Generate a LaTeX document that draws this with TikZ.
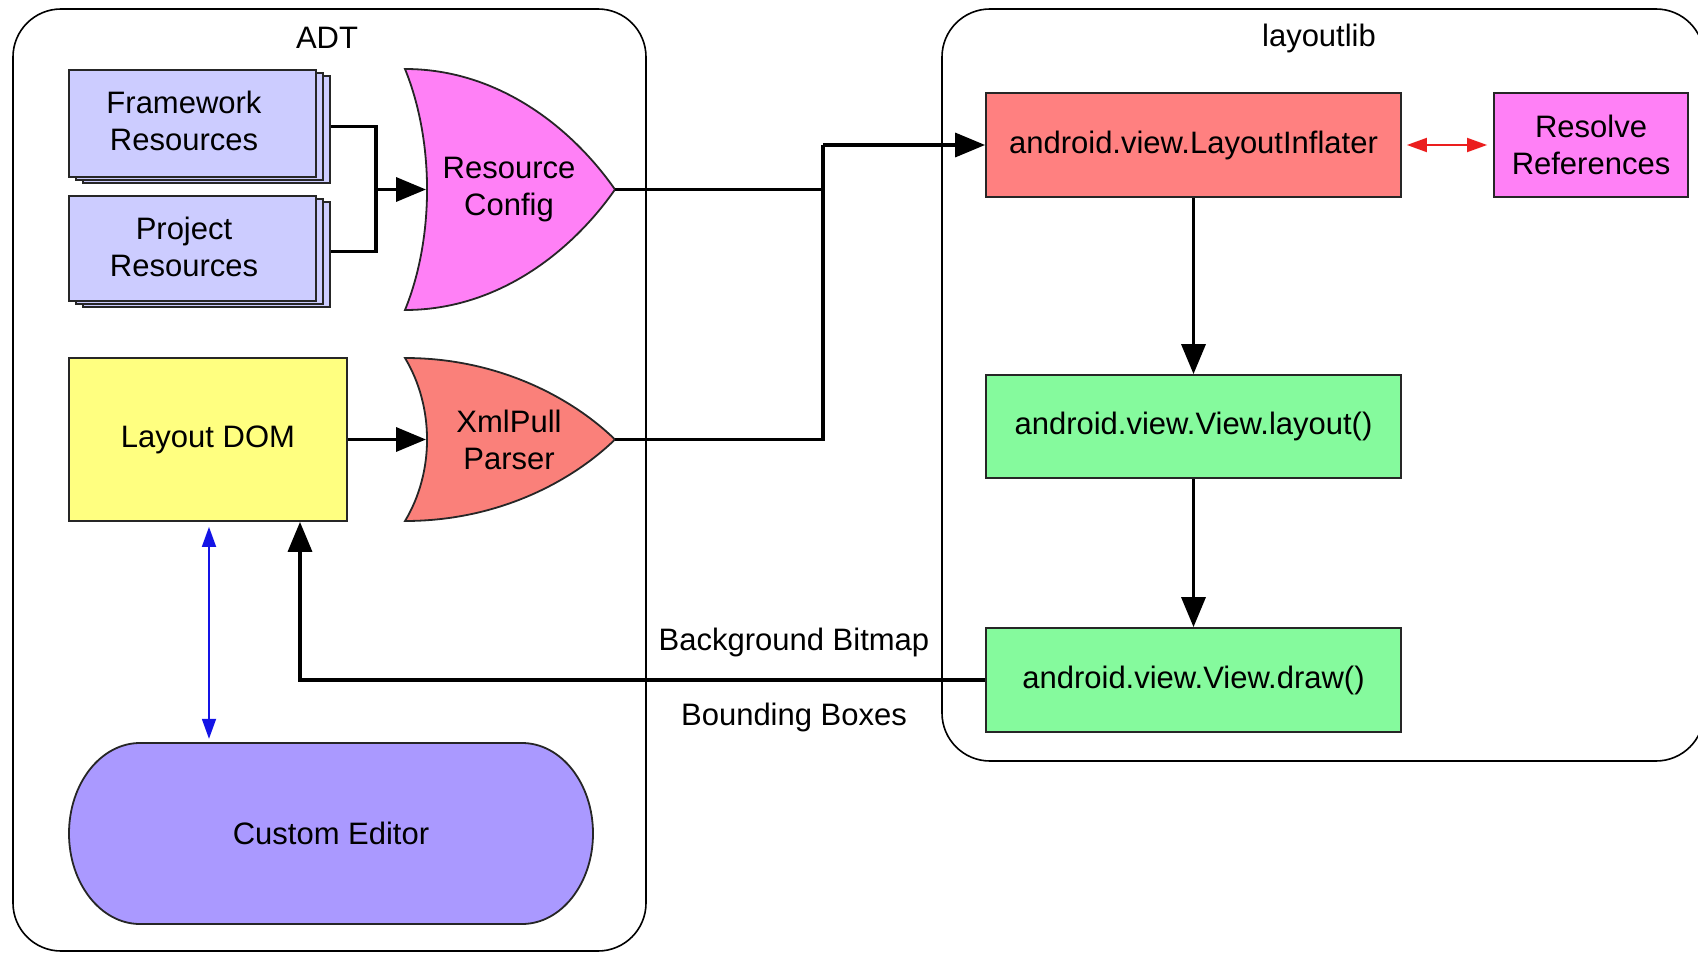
\documentclass[tikz,border=0pt]{standalone}
\usepackage{fontspec}
\setmainfont{Liberation Sans}
\usetikzlibrary{arrows.meta,calc}
\definecolor{fwcol}{RGB}{204,204,255}
\definecolor{rccol}{RGB}{255,128,246}
\definecolor{xpcol}{RGB}{250,128,122}
\definecolor{licol}{RGB}{255,128,128}
\definecolor{domcol}{RGB}{255,255,128}
\definecolor{grcol}{RGB}{133,250,157}
\definecolor{cecol}{RGB}{170,153,255}
\definecolor{bluearr}{RGB}{20,20,230}
\definecolor{redarr}{RGB}{235,30,30}
\tikzset{
  container/.style={draw=black, line width=1.6pt, rounded corners=48pt},
  box/.style={draw=black!85, line width=1.8pt, align=center, inner sep=0pt},
  shapeline/.style={draw=black!85, line width=1.8pt},
  gatetxt/.style={align=center, inner sep=0pt},
  wire/.style={line width=3.5pt},
  conn/.style={line width=3.5pt, -{Triangle[length=30pt,width=24pt]}},
  thinboth/.style={line width=1.8pt, {Triangle[length=20pt,width=14pt]}-{Triangle[length=20pt,width=14pt]}},
  lbl/.style={inner sep=0pt}
}
\newcommand{\gatepath}[5]{%
  \path[shapeline, fill=#5]
    (#1,#3) .. controls ({#1+0.45*(#2-#1)},#3) and ({#2-0.2*(#2-#1)},{(#3+#4)/2-0.25*(#4-#3)}) .. (#2,{(#3+#4)/2})
    .. controls ({#2-0.2*(#2-#1)},{(#3+#4)/2+0.25*(#4-#3)}) and ({#1+0.45*(#2-#1)},#4) .. (#1,#4)
    .. controls ({#1+0.14*(#2-#1)},{#4-0.3*(#4-#3)}) and ({#1+0.14*(#2-#1)},{#3+0.3*(#4-#3)}) .. (#1,#3) -- cycle;}
\begin{document}
\begin{tikzpicture}[x=1pt,y=-1pt,font=\fontsize{31}{37}\selectfont]
\useasboundingbox (0,0) rectangle (1698,955);

% containers
\draw[container] (13,9) rectangle (646,951);
\node[lbl] (adt) at (327,38) {ADT};
\draw[container] (942,9) rectangle (1704,761);
\node[lbl] (ll) at (1319,38) {layoutlib};

% stacked resource boxes
\foreach \dx/\dy in {14/6,7/3}{
  \draw[shapeline, fill=fwcol] (69+\dx,70+\dy) rectangle (316+\dx,177+\dy);
  \draw[shapeline, fill=fwcol] (69+\dx,196+\dy) rectangle (316+\dx,301+\dy);
}
\node[box, fill=fwcol, minimum width=247pt, minimum height=107pt] (fw) at (192.5,123.5) {};
\node[gatetxt] (fwt) at (184,121) {Framework\\Resources};
\node[box, fill=fwcol, minimum width=247pt, minimum height=105pt] (pr) at (192.5,248.5) {};
\node[gatetxt] (prt) at (184,247) {Project\\Resources};

% gates
\gatepath{405}{615}{69}{310}{rccol}
\node[gatetxt] (rc) at (509,189.5) {Resource\\Config};
\coordinate (rcL) at (426,189.5);
\coordinate (rcT) at (615,189.5);

\gatepath{405}{615}{358}{521}{xpcol}
\node[gatetxt] (xp) at (509,439.5) {XmlPull\\Parser};
\coordinate (xpL) at (426,439.5);
\coordinate (xpT) at (615,439.5);

% layout DOM
\node[box, fill=domcol, minimum width=278pt, minimum height=163pt] (dom) at (208,439.5) {Layout DOM};

% custom editor
\path[shapeline, fill=cecol] (140,743) .. controls (100.8,743) and (69,783.5) .. (69,833.5)
  .. controls (69,883.5) and (100.8,924) .. (140,924) -- (522,924)
  .. controls (561.2,924) and (593,883.5) .. (593,833.5)
  .. controls (593,783.5) and (561.2,743) .. (522,743) -- cycle;
\node[gatetxt, minimum width=524pt, minimum height=181pt] (ce) at (331,833.5) {Custom Editor};

% layoutlib boxes
\node[box, fill=licol, minimum width=415pt, minimum height=104pt] (li) at (1193.5,145) {android.view.LayoutInflater};
\node[box, fill=rccol, minimum width=194pt, minimum height=104pt] (rr) at (1591,145) {Resolve\\References};
\node[box, fill=grcol, minimum width=415pt, minimum height=103pt] (vl) at (1193.5,426.5) {android.view.View.layout()};
\node[box, fill=grcol, minimum width=415pt, minimum height=104pt] (vd) at (1193.5,680) {android.view.View.draw()};

% connectors
\coordinate (jx) at (376,189.5);
\draw[wire] ([shift={(14,3)}]fw.east) -| (jx) |- ([shift={(14,3)}]pr.east);
\draw[conn] (jx) -- (rcL);
\draw[conn] (dom.east) -- (xpL);
\coordinate (j) at (823,145);
\draw[wire] (rcT) -| (j);
\draw[wire] (xpT) -| (j);
\draw[conn] (j) -- (li.west);
\draw[thinboth, draw=redarr, fill=redarr] ([xshift=5pt]li.east) -- ([xshift=-6pt]rr.west);
\draw[conn] (li.south) -- (vl.north);
\draw[conn] (vl.south) -- (vd.north);
\coordinate (fbx) at (300,0);
\draw[conn] (vd.west) -| (fbx |- dom.south);
\coordinate (bx) at (209,0);
\draw[thinboth, draw=bluearr, fill=bluearr] ([yshift=-5pt]bx |- dom.south) -- ([yshift=4pt]bx |- ce.north);

% labels
\node[lbl] (bb) at (794,642) {Background Bitmap};
\node[lbl] (bbx) at (794,717) {Bounding Boxes};
\end{tikzpicture}
\end{document}
